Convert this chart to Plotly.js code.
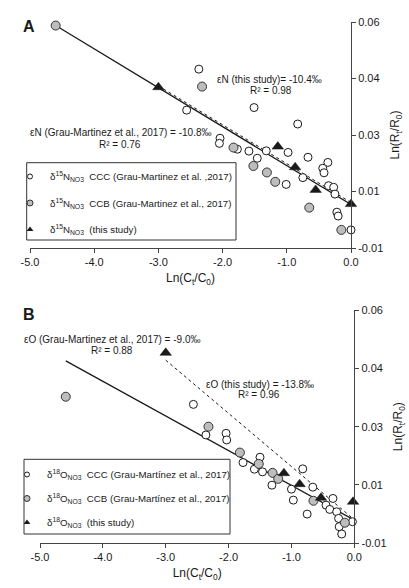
<!DOCTYPE html>
<html>
<head>
<meta charset="utf-8">
<script src="https://cdn.plot.ly/plotly-3.0.1.min.js"></script>
<style>
html,body{margin:0;padding:0;background:#fff;}
#chart{width:409px;height:588px;}
</style>
</head>
<body>
<div id="chart"></div>
<script>
// ---------- Panel A : delta15N ----------
const cccN_x = [-2.37, -2.56, -1.51, -0.83, -2.04, -2.05, -1.77, -1.59, -1.32, -0.98, -1.46, -0.67, -0.36, -0.44, -0.42, 0.02, -0.75, -1.01, -0.35, -0.27, -0.25, -0.22, -0.20, 0.00];
const cccN_y = [0.0454, 0.0327, 0.0335, 0.0284, 0.0240, 0.0224, 0.0206, 0.0200, 0.0201, 0.0196, 0.0178, 0.0181, 0.0165, 0.0147, 0.0133, 0.0136, 0.0118, 0.0097, 0.0093, 0.0088, 0.0067, 0.0011, -0.0001, -0.0044];
const ccbN_x = [-4.60, -2.32, -1.83, -1.52, -1.31, -1.18, -0.65, -0.15];
const ccbN_y = [0.0589, 0.0400, 0.0211, 0.0154, 0.0134, 0.0105, 0.0025, -0.0044];
const studyN_x = [-3.00, -1.14, -0.87, -0.55, 0.00];
const studyN_y = [0.0398, 0.0214, 0.0150, 0.0080, 0.0036];
const fitGrauN_x = [-4.60, 0.00];
const fitGrauN_y = [0.0589, 0.0035];
const fitStudyN_x = [-3.00, 0.00];
const fitStudyN_y = [0.0402, 0.0041];

// ---------- Panel B : delta18O ----------
const cccO_x = [-2.56, -2.36, -2.04, -2.03, -1.77, -1.50, -1.59, -1.46, -1.31, -1.00, -0.82, -0.97, -0.66, -0.34, -0.45, -0.75, -0.39, -0.28, -0.25, -0.24, -0.20, 0.01, -0.03];
const cccO_y = [0.0317, 0.0225, 0.0230, 0.0210, 0.0142, 0.0158, 0.0122, 0.0114, 0.0074, 0.0062, 0.0123, 0.0029, 0.0068, 0.0034, 0.0014, -0.0013, 0.0001, -0.0006, -0.0026, -0.0051, -0.0073, -0.0041, -0.0036];
const ccbO_x = [-4.59, -2.32, -1.82, -1.52, -1.30, -1.21, -0.65, -0.15];
const ccbO_y = [0.0340, 0.0250, 0.0172, 0.0138, 0.0111, 0.0093, 0.0027, -0.0039];
const studyO_x = [-3.00, -1.12, -0.87, -0.53, -0.02];
const studyO_y = [0.0472, 0.0110, 0.0077, 0.0036, 0.0024];
const fitGrauO_x = [-4.59, 0.00];
const fitGrauO_y = [0.0448, -0.0031];
const fitStudyO_x = [-3.00, 0.00];
const fitStudyO_y = [0.0450, -0.0030];

// ---------- Axis ticks ----------
const xTickVals = [-5, -4, -3, -2, -1, 0];
const xTickText = ['-5.0', '-4.0', '-3.0', '-2.0', '-1.0', '0.0'];
const yTickVals = [-0.01, 0.0075, 0.025, 0.0425, 0.06];
const yTickText = ['-0.01', '0.01', '0.03', '0.04', '0.06'];

// ---------- Labels ----------
const legendA = [
  'δ<sup>15</sup>N<sub>NO3</sub>  CCC (Grau-Martinez et al. ,2017)',
  'δ<sup>15</sup>N<sub>NO3</sub>  CCB (Grau-Martinez et al., 2017)',
  'δ<sup>15</sup>N<sub>NO3</sub>  (this study)'
];
const legendB = [
  'δ<sup>18</sup>O<sub>NO3</sub>  CCC (Grau-Martínez et al., 2017)',
  'δ<sup>18</sup>O<sub>NO3</sub>  CCB (Grau-Martínez et al., 2017)',
  'δ<sup>18</sup>O<sub>NO3</sub>  (this study)'
];

const W = 409, H = 588;
const px = v => v / W;
const py = v => 1 - v / H;
const FONT = 'Arial, "Liberation Sans", sans-serif';
const INK = '#1a1a1a';
const GRAY = '#bdbdbd';

const openM = {symbol: 'circle', size: 8, color: '#ffffff', line: {color: INK, width: 1}};
const grayM = {symbol: 'circle', size: 9, color: GRAY, line: {color: '#333', width: 1}};
const triM = {symbol: 'triangle-up', size: 10, color: INK, line: {color: INK, width: 0.5}};

function panel(xa, ya, sets, lg, names) {
  const [cx, cy, bx, by, sx, sy, gfx, gfy, sfx, sfy] = sets;
  return [
    {x: gfx, y: gfy, xaxis: xa, yaxis: ya, mode: 'lines', line: {color: INK, width: 1.3}, showlegend: false, hoverinfo: 'skip'},
    {x: sfx, y: sfy, xaxis: xa, yaxis: ya, mode: 'lines', line: {color: INK, width: 1, dash: 'dot'}, showlegend: false, hoverinfo: 'skip'},
    {x: cx, y: cy, xaxis: xa, yaxis: ya, mode: 'markers', marker: openM, showlegend: false, cliponaxis: false},
    {x: bx, y: by, xaxis: xa, yaxis: ya, mode: 'markers', marker: grayM, showlegend: false, cliponaxis: false},
    {x: sx, y: sy, xaxis: xa, yaxis: ya, mode: 'markers', marker: triM, showlegend: false, cliponaxis: false},
    // legend entries
    {x: [null], y: [null], xaxis: xa, yaxis: ya, mode: 'markers', name: names[0], legend: lg, legendgroup: lg + 'a',
     marker: {symbol: 'circle', size: 5, color: '#fff', line: {color: INK, width: 1}}},
    {x: [null], y: [null], xaxis: xa, yaxis: ya, mode: 'markers', name: names[1], legend: lg, legendgroup: lg + 'b',
     marker: {symbol: 'circle', size: 6, color: GRAY, line: {color: '#333', width: 1}}},
    {x: [null], y: [null], xaxis: xa, yaxis: ya, mode: 'markers', name: names[2], legend: lg, legendgroup: lg + 'c',
     marker: {symbol: 'triangle-up', size: 6, color: INK, line: {color: INK, width: 0}}}
  ];
}

const data = [].concat(
  panel('x', 'y', [cccN_x, cccN_y, ccbN_x, ccbN_y, studyN_x, studyN_y, fitGrauN_x, fitGrauN_y, fitStudyN_x, fitStudyN_y], 'legend', legendA),
  panel('x2', 'y2', [cccO_x, cccO_y, ccbO_x, ccbO_y, studyO_x, studyO_y, fitGrauO_x, fitGrauO_y, fitStudyO_x, fitStudyO_y], 'legend2', legendB)
);

function xAxis(domain, anchor) {
  return {
    domain: domain, anchor: anchor, range: [-5, 0], tickvals: xTickVals, ticktext: xTickText,
    showline: true, linecolor: '#444', linewidth: 1, ticks: 'outside', ticklen: 4, tickcolor: '#444',
    showgrid: false, zeroline: false, tickfont: {family: FONT, size: 11, color: INK},
    title: {text: 'Ln(C<sub>t</sub>/C<sub>0</sub>)', font: {family: FONT, size: 12, color: INK}, standoff: 6},
    fixedrange: true
  };
}
function yAxis(domain, anchor) {
  return {
    domain: domain, anchor: anchor, side: 'right', range: [-0.01, 0.06], tickvals: yTickVals, ticktext: yTickText,
    showline: true, linecolor: '#444', linewidth: 1, ticks: 'outside', ticklen: 4, tickcolor: '#444',
    showgrid: false, zeroline: false, tickfont: {family: FONT, size: 11, color: INK},
    title: {text: 'Ln(R<sub>t</sub>/R<sub>0</sub>)', font: {family: FONT, size: 12, color: INK}, standoff: 8},
    fixedrange: true
  };
}

function legendBox(left, top) {
  return {
    x: px(left), y: py(top), xanchor: 'left', yanchor: 'top', bgcolor: 'rgba(0,0,0,0)',
    borderwidth: 0, font: {family: FONT, size: 9.7, color: INK}, traceorder: 'grouped', itemclick: false, itemdoubleclick: false
  };
}

const ann = (text, x, y, opts) => Object.assign({
  text: text, x: px(x), y: py(y), xref: 'paper', yref: 'paper', showarrow: false,
  xanchor: 'center', yanchor: 'middle', font: {family: FONT, size: 10, color: INK}
}, opts || {});

const layout = {
  width: W, height: H, margin: {l: 0, r: 0, t: 0, b: 0},
  paper_bgcolor: '#fff', plot_bgcolor: '#fff', showlegend: true,
  font: {family: FONT, color: INK},
  xaxis: xAxis([px(30), px(351)], 'y'),
  yaxis: yAxis([py(248), py(22)], 'x'),
  xaxis2: xAxis([px(40), px(354.3)], 'y2'),
  yaxis2: yAxis([py(543), py(310.3)], 'x2'),
  legend: Object.assign(legendBox(10, 162), {tracegroupgap: 7.5}),
  legend2: Object.assign(legendBox(7, 460), {tracegroupgap: 5}),
  shapes: [
    {type: 'rect', xref: 'paper', yref: 'paper', x0: px(26.7), x1: px(236), y0: py(240), y1: py(162.7), line: {color: '#333', width: 1}},
    {type: 'rect', xref: 'paper', yref: 'paper', x0: px(24), x1: px(230), y0: py(534), y1: py(459.3), line: {color: '#333', width: 1}}
  ],
  annotations: [
    ann('<b>A</b>', 29, 26, {font: {family: FONT, size: 16, color: INK}}),
    ann('εN (this study)= -10.4‰', 269, 79.5),
    ann('R² = 0.98', 270.7, 90.5),
    ann('εN (Grau-Martinez et al., 2017) = -10.8‰', 28, 132.7, {xanchor: 'left'}),
    ann('R² = 0.76', 120, 144),
    ann('<b>B</b>', 29, 314.5, {font: {family: FONT, size: 16, color: INK}}),
    ann('εO (Grau-Martinez et al., 2017) = -9.0‰', 112, 339.3),
    ann('R² = 0.88', 112, 350),
    ann('εO (this study) = -13.8‰', 260, 384.3),
    ann('R² = 0.96', 259, 394.5)
  ]
};

Plotly.newPlot('chart', data, layout, {displayModeBar: false, staticPlot: true});
</script>
</body>
</html>
